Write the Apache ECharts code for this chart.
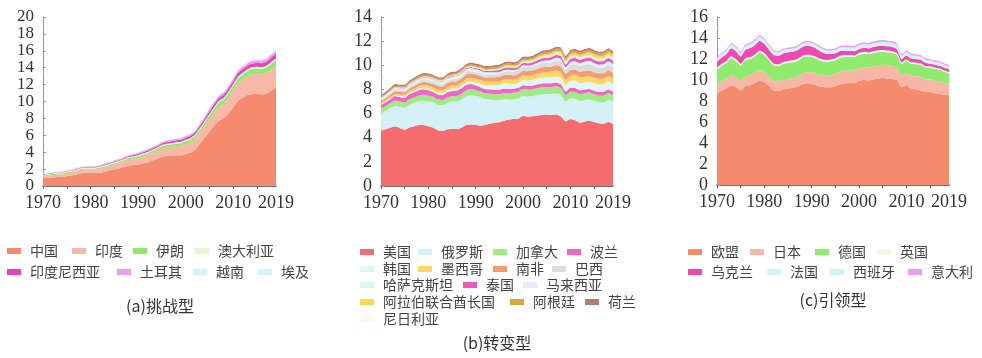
<!DOCTYPE html>
<html><head><meta charset="utf-8">
<script src="https://cdn.jsdelivr.net/npm/echarts@6/dist/echarts.min.js"></script>
<style>html,body{margin:0;padding:0;background:#fff}#c{width:982px;height:358px}</style>
</head><body><div id="c"></div>
<script>
const years = ['1970','1971','1972','1973','1974','1975','1976','1977','1978','1979','1980','1981','1982','1983','1984','1985','1986','1987','1988','1989','1990','1991','1992','1993','1994','1995','1996','1997','1998','1999','2000','2001','2002','2003','2004','2005','2006','2007','2008','2009','2010','2011','2012','2013','2014','2015','2016','2017','2018','2019'];

// (a) 挑战型
const namesA = ['中国','印度','伊朗','澳大利亚','印度尼西亚','土耳其','越南','埃及'];
const chinaA = [0.92,0.98,1.02,1.06,1.08,1.18,1.24,1.36,1.52,1.56,1.55,1.53,1.60,1.70,1.83,1.98,2.10,2.25,2.42,2.48,2.55,2.68,2.82,3.02,3.20,3.45,3.55,3.58,3.65,3.62,3.78,3.95,4.30,5.00,5.70,6.45,7.15,7.75,8.00,8.55,9.30,10.10,10.45,10.80,10.90,10.95,10.85,10.95,11.30,11.70];
const indiaA = [0.25,0.26,0.27,0.28,0.29,0.31,0.33,0.35,0.36,0.38,0.40,0.43,0.45,0.48,0.50,0.54,0.57,0.61,0.65,0.70,0.74,0.78,0.82,0.85,0.90,0.95,1.00,1.04,1.07,1.12,1.16,1.18,1.22,1.27,1.35,1.42,1.52,1.62,1.72,1.85,1.98,2.05,2.15,2.20,2.30,2.32,2.38,2.42,2.50,2.52];
const iranA = [0.10,0.11,0.12,0.13,0.13,0.14,0.15,0.15,0.14,0.13,0.12,0.12,0.14,0.16,0.17,0.18,0.18,0.19,0.20,0.21,0.22,0.24,0.25,0.27,0.28,0.29,0.30,0.30,0.31,0.33,0.35,0.37,0.39,0.41,0.43,0.46,0.49,0.52,0.54,0.56,0.57,0.59,0.60,0.62,0.64,0.63,0.64,0.66,0.68,0.70];
const australiaA = [0.08,0.08,0.08,0.09,0.09,0.09,0.10,0.10,0.10,0.11,0.11,0.11,0.12,0.12,0.12,0.12,0.13,0.13,0.13,0.14,0.14,0.14,0.14,0.15,0.15,0.15,0.15,0.16,0.16,0.16,0.17,0.17,0.17,0.18,0.18,0.18,0.19,0.19,0.19,0.20,0.20,0.20,0.20,0.20,0.20,0.20,0.20,0.20,0.20,0.20];
const indonesiaA = [0.03,0.03,0.04,0.04,0.05,0.05,0.05,0.06,0.07,0.07,0.08,0.08,0.08,0.09,0.09,0.10,0.10,0.11,0.12,0.13,0.14,0.15,0.16,0.17,0.18,0.20,0.21,0.23,0.22,0.24,0.26,0.27,0.28,0.30,0.31,0.33,0.34,0.35,0.36,0.38,0.40,0.42,0.44,0.44,0.45,0.46,0.47,0.49,0.52,0.55];
const turkeyA = [0.04,0.04,0.05,0.05,0.06,0.06,0.07,0.07,0.07,0.07,0.07,0.08,0.08,0.09,0.09,0.10,0.11,0.12,0.12,0.13,0.14,0.14,0.15,0.15,0.15,0.16,0.17,0.18,0.18,0.18,0.20,0.19,0.20,0.21,0.22,0.23,0.24,0.26,0.26,0.26,0.27,0.28,0.29,0.28,0.30,0.31,0.33,0.35,0.34,0.35];
const vietnamA = [0.02,0.02,0.02,0.02,0.02,0.02,0.02,0.02,0.02,0.02,0.02,0.02,0.02,0.02,0.02,0.02,0.02,0.02,0.02,0.02,0.02,0.02,0.02,0.02,0.03,0.03,0.03,0.03,0.04,0.04,0.04,0.04,0.05,0.05,0.06,0.06,0.06,0.07,0.07,0.08,0.08,0.08,0.09,0.09,0.10,0.10,0.11,0.11,0.12,0.12];
const egyptA = [0.02,0.02,0.02,0.02,0.02,0.02,0.03,0.03,0.03,0.03,0.04,0.04,0.04,0.04,0.05,0.05,0.05,0.05,0.05,0.05,0.05,0.05,0.05,0.05,0.05,0.05,0.06,0.06,0.06,0.06,0.06,0.06,0.06,0.07,0.07,0.07,0.08,0.08,0.08,0.08,0.09,0.09,0.09,0.09,0.09,0.09,0.10,0.10,0.10,0.10];

// (b) 转变型
const namesB = ['美国','俄罗斯','加拿大','波兰','韩国','墨西哥','南非','巴西','哈萨克斯坦','泰国','马来西亚','阿拉伯联合酋长国','阿根廷','荷兰','尼日利亚'];
const usB = [4.60,4.70,4.85,4.95,4.80,4.65,4.85,4.95,5.05,5.05,4.95,4.85,4.62,4.55,4.70,4.75,4.72,4.85,5.05,5.10,5.05,5.00,5.05,5.15,5.25,5.28,5.40,5.50,5.55,5.60,5.80,5.75,5.78,5.82,5.90,5.92,5.88,5.92,5.75,5.35,5.55,5.45,5.25,5.35,5.40,5.30,5.20,5.15,5.30,5.15];
const russiaB = [1.45,1.52,1.60,1.70,1.75,1.82,1.88,1.92,1.98,2.02,2.05,2.08,2.10,2.14,2.18,2.22,2.28,2.32,2.38,2.40,2.42,2.35,2.15,2.02,1.85,1.82,1.78,1.65,1.62,1.65,1.65,1.66,1.66,1.70,1.70,1.70,1.75,1.74,1.78,1.62,1.70,1.78,1.80,1.76,1.76,1.74,1.74,1.76,1.82,1.80];
const canadaB = [0.38,0.40,0.42,0.44,0.44,0.44,0.45,0.46,0.47,0.49,0.48,0.46,0.44,0.43,0.45,0.46,0.45,0.47,0.50,0.51,0.48,0.47,0.48,0.48,0.50,0.51,0.53,0.54,0.55,0.56,0.58,0.57,0.58,0.59,0.59,0.58,0.57,0.60,0.58,0.55,0.56,0.57,0.57,0.58,0.58,0.57,0.56,0.57,0.58,0.58];
const polandB = [0.30,0.32,0.34,0.36,0.38,0.40,0.42,0.44,0.45,0.46,0.45,0.40,0.42,0.42,0.44,0.45,0.46,0.46,0.46,0.44,0.38,0.37,0.36,0.36,0.36,0.36,0.37,0.36,0.34,0.33,0.32,0.31,0.30,0.31,0.31,0.31,0.32,0.32,0.32,0.30,0.32,0.32,0.31,0.30,0.29,0.29,0.30,0.32,0.32,0.30];
const koreaB = [0.05,0.06,0.06,0.07,0.08,0.09,0.10,0.11,0.12,0.13,0.13,0.13,0.14,0.15,0.16,0.17,0.18,0.19,0.21,0.23,0.25,0.28,0.31,0.34,0.37,0.40,0.43,0.45,0.38,0.41,0.44,0.46,0.48,0.49,0.50,0.50,0.50,0.52,0.53,0.53,0.58,0.61,0.61,0.61,0.60,0.61,0.61,0.62,0.63,0.61];
const mexicoB = [0.10,0.11,0.12,0.13,0.14,0.15,0.16,0.17,0.19,0.21,0.24,0.26,0.26,0.25,0.26,0.27,0.26,0.27,0.28,0.29,0.30,0.31,0.31,0.31,0.33,0.31,0.32,0.34,0.36,0.36,0.38,0.38,0.38,0.40,0.41,0.43,0.45,0.46,0.46,0.45,0.46,0.48,0.48,0.48,0.47,0.47,0.48,0.47,0.46,0.45];
const southAfricaB = [0.16,0.17,0.18,0.19,0.20,0.21,0.22,0.23,0.24,0.25,0.26,0.28,0.30,0.30,0.32,0.33,0.33,0.34,0.35,0.35,0.33,0.33,0.32,0.34,0.35,0.36,0.37,0.38,0.37,0.37,0.38,0.38,0.38,0.41,0.43,0.42,0.43,0.46,0.48,0.46,0.46,0.44,0.45,0.46,0.47,0.44,0.44,0.45,0.47,0.48];
const brazilB = [0.09,0.10,0.11,0.12,0.13,0.14,0.15,0.16,0.17,0.18,0.19,0.18,0.18,0.17,0.17,0.18,0.20,0.21,0.21,0.21,0.21,0.22,0.22,0.23,0.24,0.25,0.27,0.29,0.30,0.31,0.33,0.33,0.33,0.32,0.34,0.35,0.35,0.37,0.39,0.37,0.42,0.44,0.47,0.50,0.53,0.51,0.47,0.48,0.47,0.47];
const kazakhstanB = [0.15,0.16,0.16,0.17,0.17,0.18,0.18,0.19,0.19,0.20,0.20,0.21,0.21,0.22,0.22,0.23,0.23,0.24,0.24,0.25,0.25,0.24,0.22,0.19,0.17,0.16,0.14,0.13,0.13,0.12,0.13,0.14,0.15,0.17,0.18,0.19,0.21,0.23,0.24,0.21,0.23,0.25,0.25,0.26,0.27,0.25,0.25,0.26,0.28,0.27];
const thailandB = [0.02,0.02,0.03,0.03,0.03,0.03,0.03,0.04,0.04,0.04,0.04,0.04,0.04,0.04,0.05,0.05,0.05,0.06,0.07,0.08,0.09,0.10,0.11,0.12,0.14,0.16,0.17,0.18,0.16,0.16,0.17,0.18,0.19,0.20,0.22,0.23,0.23,0.24,0.24,0.24,0.25,0.26,0.27,0.27,0.27,0.28,0.28,0.28,0.28,0.28];
const malaysiaB = [0.01,0.01,0.02,0.02,0.02,0.02,0.02,0.02,0.02,0.03,0.03,0.03,0.03,0.04,0.04,0.04,0.04,0.04,0.04,0.05,0.06,0.06,0.07,0.08,0.08,0.09,0.10,0.11,0.11,0.11,0.12,0.14,0.15,0.16,0.17,0.18,0.18,0.19,0.20,0.20,0.21,0.22,0.22,0.23,0.24,0.24,0.24,0.24,0.25,0.26];
const uaeB = [0.01,0.01,0.01,0.02,0.02,0.02,0.03,0.03,0.03,0.03,0.04,0.04,0.04,0.04,0.05,0.05,0.05,0.05,0.05,0.05,0.06,0.06,0.07,0.07,0.08,0.08,0.08,0.09,0.09,0.09,0.11,0.11,0.11,0.12,0.13,0.13,0.14,0.15,0.16,0.16,0.17,0.17,0.18,0.19,0.20,0.21,0.21,0.20,0.21,0.20];
const argentinaB = [0.08,0.08,0.08,0.09,0.09,0.09,0.09,0.10,0.10,0.10,0.11,0.10,0.10,0.10,0.10,0.10,0.10,0.11,0.11,0.11,0.11,0.11,0.11,0.11,0.12,0.12,0.12,0.13,0.13,0.14,0.14,0.13,0.12,0.13,0.14,0.15,0.16,0.16,0.17,0.17,0.18,0.18,0.19,0.19,0.19,0.19,0.19,0.19,0.18,0.18];
const netherlandsB = [0.14,0.15,0.15,0.16,0.16,0.16,0.17,0.17,0.17,0.18,0.17,0.16,0.15,0.15,0.16,0.16,0.16,0.16,0.16,0.16,0.16,0.17,0.17,0.17,0.17,0.17,0.18,0.17,0.17,0.17,0.17,0.18,0.18,0.18,0.18,0.18,0.17,0.17,0.18,0.17,0.18,0.17,0.17,0.17,0.16,0.17,0.17,0.16,0.16,0.15];
const nigeriaB = [0.01,0.02,0.02,0.03,0.03,0.03,0.04,0.04,0.05,0.05,0.06,0.06,0.06,0.05,0.05,0.05,0.05,0.05,0.05,0.05,0.05,0.05,0.05,0.05,0.05,0.05,0.05,0.05,0.05,0.05,0.06,0.07,0.08,0.08,0.08,0.10,0.10,0.09,0.09,0.08,0.09,0.09,0.09,0.09,0.11,0.11,0.12,0.12,0.12,0.12];

// (c) 引领型
const namesC = ['欧盟','日本','德国','英国','乌克兰','法国','西班牙','意大利'];
const euC = [8.70,9.00,9.20,9.50,9.30,9.00,9.40,9.50,9.70,9.95,9.80,9.40,9.00,8.95,9.10,9.20,9.25,9.35,9.60,9.70,9.65,9.50,9.35,9.30,9.30,9.40,9.60,9.70,9.75,9.70,9.90,10.00,9.95,10.05,10.15,10.20,10.15,10.10,10.00,9.30,9.50,9.20,9.10,9.00,8.85,8.85,8.75,8.70,8.60,8.55];
const japanC = [0.85,0.88,0.92,0.98,0.96,0.92,0.95,0.96,0.94,0.98,0.95,0.92,0.90,0.90,0.95,0.93,0.93,0.94,1.00,1.03,1.08,1.10,1.12,1.10,1.16,1.17,1.18,1.18,1.15,1.19,1.22,1.20,1.23,1.24,1.24,1.25,1.23,1.25,1.18,1.10,1.16,1.20,1.25,1.28,1.24,1.20,1.18,1.16,1.12,1.08];
const germanyC = [1.45,1.48,1.52,1.60,1.55,1.45,1.55,1.55,1.62,1.68,1.62,1.55,1.48,1.47,1.50,1.52,1.52,1.52,1.52,1.50,1.45,1.42,1.35,1.33,1.32,1.32,1.35,1.32,1.31,1.28,1.28,1.30,1.28,1.28,1.27,1.24,1.25,1.22,1.22,1.12,1.17,1.14,1.15,1.17,1.12,1.12,1.13,1.11,1.07,1.02];
const ukC = [0.18,0.18,0.18,0.19,0.18,0.17,0.18,0.18,0.18,0.19,0.18,0.17,0.17,0.17,0.17,0.17,0.18,0.18,0.18,0.18,0.18,0.18,0.17,0.17,0.17,0.17,0.18,0.17,0.17,0.17,0.17,0.18,0.17,0.17,0.17,0.17,0.17,0.17,0.16,0.15,0.15,0.14,0.15,0.14,0.13,0.13,0.12,0.12,0.12,0.12];
const ukraineC = [0.55,0.60,0.65,0.75,0.75,0.70,0.80,0.85,0.90,0.95,0.90,0.85,0.82,0.80,0.82,0.82,0.82,0.85,0.85,0.85,0.82,0.78,0.70,0.60,0.52,0.48,0.45,0.42,0.40,0.40,0.38,0.38,0.38,0.40,0.40,0.40,0.41,0.41,0.40,0.33,0.36,0.37,0.36,0.34,0.30,0.26,0.27,0.26,0.27,0.26];
const franceC = [0.22,0.23,0.24,0.25,0.24,0.22,0.24,0.23,0.24,0.25,0.24,0.22,0.21,0.20,0.20,0.19,0.19,0.19,0.19,0.20,0.20,0.21,0.20,0.19,0.19,0.19,0.20,0.19,0.20,0.20,0.20,0.20,0.20,0.20,0.20,0.20,0.20,0.19,0.19,0.18,0.18,0.17,0.17,0.17,0.16,0.16,0.16,0.16,0.15,0.15];
const spainC = [0.10,0.10,0.11,0.11,0.12,0.12,0.12,0.12,0.13,0.13,0.13,0.13,0.13,0.12,0.12,0.12,0.12,0.12,0.12,0.13,0.13,0.13,0.13,0.13,0.13,0.14,0.14,0.14,0.15,0.15,0.16,0.16,0.16,0.17,0.17,0.18,0.18,0.18,0.17,0.15,0.15,0.14,0.14,0.13,0.13,0.13,0.13,0.13,0.13,0.12];
const italyC = [0.12,0.12,0.13,0.13,0.13,0.13,0.13,0.13,0.14,0.14,0.14,0.14,0.13,0.13,0.13,0.13,0.13,0.14,0.14,0.14,0.14,0.14,0.14,0.14,0.14,0.15,0.15,0.15,0.15,0.15,0.16,0.16,0.16,0.16,0.16,0.16,0.16,0.16,0.16,0.15,0.15,0.15,0.14,0.14,0.13,0.13,0.13,0.13,0.13,0.13];

const tickA = [0,2,4,6,8,10,12,14,16,18,20];
const tickB = [0,2,4,6,8,10,12,14];
const tickC = [0,2,4,6,8,10,12,14,16];

// ---- styling / layout (not data) ----
const colorsA = ['#F58A6E','#F7B8A8','#8FEA6E','#E3F7D4','#E845B4','#EE9BF0','#D6F5F8','#D2F3FA'];
const colorsB = ['#F56C6E','#D4F0F7','#A0EB84','#F066C8','#E2F6F8','#FBD862','#F69A74','#DCDCDC','#D8F6F6','#EE58B8','#E5EEF8','#FAD94C','#D8A63E','#B87C72','#FFF7EE'];
const colorsC = ['#F58A6C','#F7B6A6','#8EEB6E','#F1F8E6','#EE48B2','#D2F4F8','#CCF4F7','#EE9CEE'];

const dataA = [chinaA,indiaA,iranA,australiaA,indonesiaA,turkeyA,vietnamA,egyptA];
const dataB = [usB,russiaB,canadaB,polandB,koreaB,mexicoB,southAfricaB,brazilB,kazakhstanB,thailandB,malaysiaB,uaeB,argentinaB,netherlandsB,nigeriaB];
const dataC = [euC,japanC,germanyC,ukC,ukraineC,franceC,spainC,italyC];

const legPosA = [[7,251],[72,251],[133,251],[195,251],[7,272],[117,272],[193,272],[258,272]];
const legPosB = [[360,252],[418,252],[493,252],[567,252],[360,269],[418,269],[493,269],[552,269],[360,285],[463,285],[523,285],[360,302],[510,302],[585,302],[360,319]];
const legPosC = [[688,252],[750,252],[815,252],[877,252],[688,272],[767,272],[830,272],[908,272]];

const serif = 'Liberation Serif, DejaVu Serif, serif';
const cjk = 'Noto Sans CJK SC, sans-serif';

const grids = [
  {left:43, top:17, width:233, height:169},
  {left:381, top:17, width:232, height:169},
  {left:717, top:17, width:232, height:168}
];
const ticks = [tickA, tickB, tickC];

const xAxes = grids.map((g,i)=>({
  type:'category', gridIndex:i, data:years, boundaryGap:false,
  axisLine:{lineStyle:{color:'#444', width:1.5}},
  axisTick:{show:true, length:3, interval:(idx)=>idx%5===0, lineStyle:{color:'#666'}},
  axisLabel:{interval:(idx)=>idx%10===0||idx===49, color:'#333', fontFamily:serif, fontSize:18, margin:8},
  splitLine:{show:false}
}));
const yAxes = grids.map((g,i)=>({
  type:'value', gridIndex:i, min:0, max:ticks[i][ticks[i].length-1], interval:2,
  axisLine:{show:true, lineStyle:{color:'#999', width:1}},
  axisTick:{show:true, length:3, inside:true, lineStyle:{color:'#999'}},
  minorTick:{show:true, splitNumber:2, length:2, lineStyle:{color:'#bbb'}},
  axisLabel:{color:'#333', fontFamily:serif, fontSize:i===0?17:18, margin:9, showMinLabel:true, showMaxLabel:true, hideOverlap:false, lineHeight:16},
  splitLine:{show:false}
}));

const series = [];
const legends = [];
function addPanel(names, data, colors, idx, pos){
  names.forEach((n,k)=>{
    series.push({
      name:n, type:'line', stack:'s'+idx, xAxisIndex:idx, yAxisIndex:idx,
      data:data[k], symbol:'none', smooth:0.2, color:colors[k],
      lineStyle:{width:0}, areaStyle:{color:colors[k], opacity:1}, silent:true
    });
    legends.push({
      data:[n], left:pos[k][0], top:pos[k][1]-8, padding:0, orient:'horizontal',
      icon:'rect', itemWidth:14, itemHeight:6, selectedMode:false,
      textStyle:{fontFamily:cjk, fontSize:14, color:'#444', padding:[0,0,0,4], lineHeight:16}
    });
  });
}
addPanel(namesA, dataA, colorsA, 0, legPosA);
addPanel(namesB, dataB, colorsB, 1, legPosB);
addPanel(namesC, dataC, colorsC, 2, legPosC);

function caption(t, x, y){
  return {type:'text', x:x, y:y, style:{text:t, font:'16px '+cjk, fill:'#333', textAlign:'center', align:'center', textVerticalAlign:'middle', verticalAlign:'middle'}};
}

const chart = echarts.init(document.getElementById('c'), null, {renderer:'canvas'});
chart.setOption({
  animation:false,
  backgroundColor:'#fff',
  grid:grids,
  xAxis:xAxes,
  yAxis:yAxes,
  legend:legends,
  series:series,
  graphic:[caption('(a)挑战型',160,306), caption('(b)转变型',497,343), caption('(c)引领型',833,300)]
});
</script></body></html>
